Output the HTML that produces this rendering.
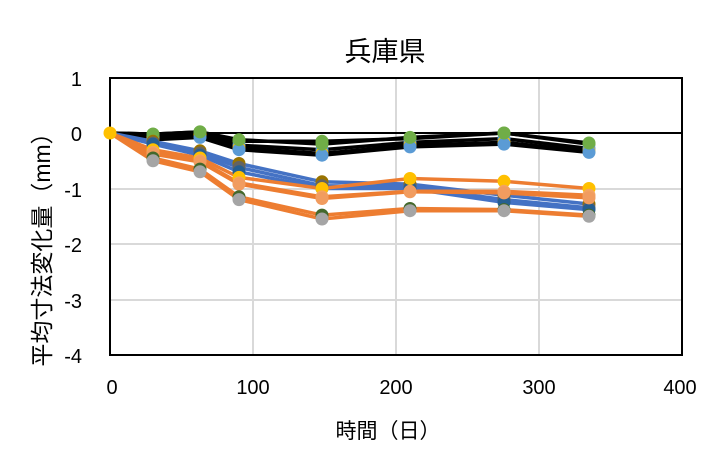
<!DOCTYPE html>
<html><head><meta charset="utf-8"><style>
body{margin:0;background:#fff;}
svg text{font-family:"Liberation Sans","Noto Sans CJK JP",sans-serif;fill:#000;}
</style></head><body>
<svg width="718" height="468" viewBox="0 0 718 468" xmlns="http://www.w3.org/2000/svg">
<rect width="718" height="468" fill="#fff"/>
<g stroke="#d9d9d9" stroke-width="2">
<line x1="253" y1="78" x2="253" y2="355"/><line x1="396" y1="78" x2="396" y2="355"/><line x1="539" y1="78" x2="539" y2="355"/>
<line x1="110" y1="189" x2="682" y2="189"/><line x1="110" y1="244" x2="682" y2="244"/><line x1="110" y1="300" x2="682" y2="300"/>
</g>
<rect x="110" y="78" width="572" height="277" fill="none" stroke="#000" stroke-width="2"/>
<line x1="110" y1="133" x2="682" y2="133" stroke="#000" stroke-width="2"/>
<text x="385" y="61" font-size="27" text-anchor="middle" font-family="Noto Sans CJK JP">兵庫県</text>
<g font-size="20" text-anchor="end">
<text x="82" y="86">1</text><text x="82" y="141">0</text><text x="82" y="197">-1</text><text x="82" y="252">-2</text><text x="82" y="308">-3</text><text x="82" y="363">-4</text>
</g>
<g font-size="20" text-anchor="middle">
<text x="112" y="394">0</text><text x="253" y="394">100</text><text x="396" y="394">200</text><text x="539" y="394">300</text><text x="680" y="394">400</text>
</g>
<text x="388" y="438" font-size="21" text-anchor="middle">時間（日）</text>
<text transform="translate(50,244) rotate(-90)" font-size="23" text-anchor="middle">平均寸法変化量（mm）</text>
<g id="s"></g>
</svg>
<script>
var X=[110,153,200,239,322,410,504,589];
function Y(v){return 133-v*55.5;}
var S=[
["#000",[0,-0.02,0.02,-0.15,-0.15,-0.1,0,-0.2],"#70ad47"],
["#000",[0,-0.05,0,-0.22,-0.3,-0.17,-0.1,-0.28],"#5b9bd5"],
["#000",[0,-0.08,-0.03,-0.27,-0.37,-0.22,-0.17,-0.33],"#ffc000"],
["#000",[0,-0.12,-0.08,-0.3,-0.4,-0.25,-0.2,-0.35],"#5b9bd5"],
["#000",[0,-0.02,0.02,-0.12,-0.2,-0.08,0,-0.18],"#70ad47"],
["#4472c4",[0,-0.15,-0.32,-0.55,-0.88,-0.92,-1.12,-1.28],"#997300"],
["#4472c4",[0,-0.18,-0.36,-0.62,-0.95,-0.97,-1.2,-1.35],"#636363"],
["#4472c4",[0,-0.2,-0.4,-0.7,-1.0,-1.0,-1.25,-1.38],"#255e91"],
["#ed7d31",[0,-0.3,-0.45,-0.8,-1.0,-0.82,-0.87,-1.0],"#ffc000"],
["#ed7d31",[0,-0.35,-0.5,-0.9,-1.15,-1.05,-1.05,-1.12],"#f4a460"],
["#ed7d31",[0,-0.38,-0.52,-0.92,-1.18,-1.06,-1.08,-1.17],"#f19c5f"],
["#ed7d31",[0,-0.45,-0.65,-1.15,-1.48,-1.36,-1.38,-1.48],"#43682b"],
["#ed7d31",[0,-0.5,-0.7,-1.2,-1.55,-1.4,-1.4,-1.5],"#a5a5a5"]
];
var g=document.getElementById("s"),h="";
S.forEach(function(s){var p=s[1].map(function(v,i){return X[i]+","+Y(v).toFixed(1)}).join(" ");
h+='<polyline points="'+p+'" fill="none" stroke="'+s[0]+'" stroke-width="3.5"/>';});
S.forEach(function(s){s[1].forEach(function(v,i){if(i>0)h+='<circle cx="'+X[i]+'" cy="'+Y(v).toFixed(1)+'" r="6.5" fill="'+s[2]+'"/>';});});
h+='<circle cx="110" cy="133" r="6.5" fill="#ffc000"/>';
g.innerHTML=h;
</script>
</body></html>
